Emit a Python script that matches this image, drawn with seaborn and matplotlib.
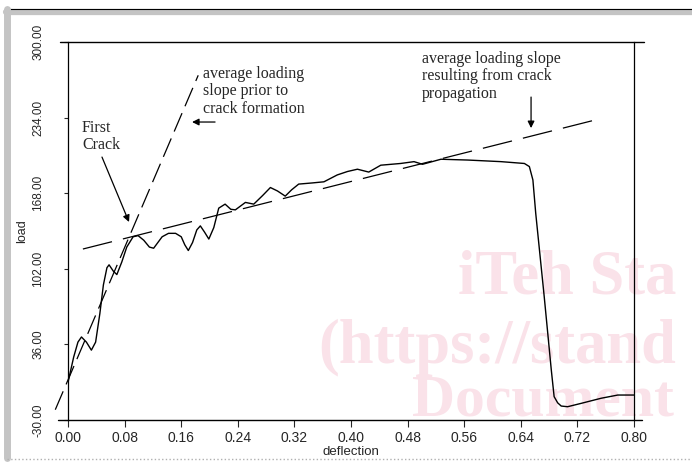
import numpy as np
import pandas as pd
import matplotlib.pyplot as plt
import seaborn as sns
from matplotlib.lines import Line2D

sns.set_style("ticks")
plt.rcParams["font.family"] = ["Liberation Sans", "DejaVu Sans"]

# ── DATA ────────────────────────────────────────────────────
deflection = [0.000, 0.008, 0.014, 0.019, 0.026, 0.033, 0.039, 0.045, 0.050, 0.055,
              0.058, 0.064, 0.069, 0.076, 0.083, 0.092, 0.099, 0.107, 0.115, 0.121,
              0.127, 0.133, 0.142, 0.152, 0.160, 0.165, 0.170, 0.176, 0.182, 0.187,
              0.193, 0.199, 0.206, 0.213, 0.222, 0.230, 0.2365, 0.2507, 0.2625, 0.275,
              0.286, 0.296, 0.307, 0.316, 0.326, 0.345, 0.3617, 0.3805, 0.395, 0.409,
              0.425, 0.442, 0.470, 0.489, 0.501, 0.527, 0.565, 0.612, 0.645, 0.652,
              0.657, 0.661, 0.673, 0.683, 0.687, 0.692, 0.697, 0.706, 0.725, 0.7535,
              0.777, 0.800]
load = [3, 25, 38, 42.5, 38, 31, 38, 63, 88, 103,
        105.5, 100, 97, 108, 121, 130, 131, 127, 121, 120,
        125, 130, 133, 133, 130, 123, 118, 125, 136, 139.5,
        134, 128, 138, 155, 158.5, 154, 153.5, 160, 158.5, 166,
        173, 170, 165.5, 171, 176, 177, 178, 184, 187, 189,
        186.5, 192.5, 194, 195.6, 193.3, 197.7, 197, 195.6, 194, 191.3,
        179.6, 150.5, 77.7, 13.7, -9.6, -15, -17.8, -18.4, -15.5, -11,
        -8.2, -8.2]

# average slope lines (end points)
pre_crack_x = [-0.018, 0.184]
pre_crack_y = [-21, 271]
post_crack_x = [0.021, 0.751]
post_crack_y = [119.3, 232.9]

x_ticks = [0.00, 0.08, 0.16, 0.24, 0.32, 0.40, 0.48, 0.56, 0.64, 0.72, 0.80]
y_ticks = [-30, 36, 102, 168, 234, 300]

# visible part of the page watermark
watermark = ["iTeh Sta", "(https://stand", "Document"]

df = pd.DataFrame({"deflection": deflection, "load": load})

# ── FIGURE ──────────────────────────────────────────────────
fig = plt.figure(figsize=(6.92, 4.62), dpi=100)
ax = fig.add_axes([0.0983, 0.0909, 0.818, 0.818])
ax.set_zorder(1)
ax.patch.set_visible(False)

# watermark behind the chart
wm = dict(family=["Liberation Serif", "DejaVu Serif"], fontweight="bold",
          fontsize=45, color="#fae2e9", zorder=0, va="baseline", ha="left")
fig.text(458 / 692, 1 - 293 / 462, watermark[0], **wm)
fig.text(318 / 692, 1 - 363 / 462, watermark[1], **wm)
fig.text(412 / 692, 1 - 416 / 462, watermark[2], **{**wm, "fontsize": 43})

sns.lineplot(data=df, x="deflection", y="load", ax=ax, color="black",
             lw=1.0, estimator=None, sort=False)
sns.lineplot(x=pre_crack_x, y=pre_crack_y, ax=ax, color="black", lw=0.9)
ax.lines[-1].set_dashes([16, 6])
ax.lines[-1].set_clip_on(False)
sns.lineplot(x=post_crack_x, y=post_crack_y, ax=ax, color="black", lw=0.9)
ax.lines[-1].set_dashes([24, 9])

ax.set_xlim(0, 0.8)
ax.set_ylim(-30, 300)
ax.set_xticks(x_ticks)
ax.set_xticklabels([f"{v:.2f}" for v in x_ticks])
ax.set_yticks(y_ticks)
ax.set_yticklabels([f"{v:.2f}" for v in y_ticks])
ax.tick_params(axis="x", direction="out", length=5, width=0.8, pad=3, labelsize=10)
ax.tick_params(axis="y", direction="out", length=3, width=0.8, pad=14,
               labelsize=8.5, labelrotation=90)
for lab in ax.get_yticklabels():
    lab.set_va("center")

ax.set_xlabel("deflection", fontsize=9.5, labelpad=0)
ax.set_ylabel("load", fontsize=9)
ax.xaxis.set_label_coords(0.5, -0.069)
ax.yaxis.set_label_coords(-0.071, 0.5)

for side in ["left", "right"]:
    ax.spines[side].set_linewidth(0.9)
    ax.spines[side].set_color("black")
ax.spines["top"].set_visible(False)
ax.spines["bottom"].set_visible(False)
# top and bottom frame lines run a little past the box
fig.add_artist(Line2D([60 / 692, 644 / 692], [1 - 42 / 462] * 2, color="black", lw=1.0))
fig.add_artist(Line2D([58 / 692, 642 / 692], [1 - 420 / 462] * 2, color="black", lw=1.0))

# ── ANNOTATIONS ─────────────────────────────────────────────
serif = ["Liberation Serif", "DejaVu Serif"]
ax.text(0.0198, 232, "First\nCrack", family=serif, fontsize=11.5, va="top",
        ha="left", linespacing=1.1)
ax.text(0.1908, 279, "average loading\nslope prior to\ncrack formation", family=serif,
        fontsize=11.5, va="top", ha="left", linespacing=1.1)
ax.text(0.5004, 292, "average loading slope\nresulting from crack\npropagation",
        family=serif, fontsize=11.5, va="top", ha="left", linespacing=1.1)

arrow = dict(arrowstyle="-|>", color="black", lw=0.9, mutation_scale=10,
             shrinkA=0, shrinkB=0)
ax.annotate("", xy=(0.0862, 142.9), xytext=(0.048, 199.6), arrowprops=arrow)
ax.annotate("", xy=(0.1753, 230.2), xytext=(0.2078, 230.2), arrowprops=arrow)
ax.annotate("", xy=(0.6544, 224.9), xytext=(0.6544, 252), arrowprops=arrow)

# stippled page frame
fig.add_artist(Line2D([6 / 692, 1.0], [1 - 12 / 462] * 2, color="#c4c4c4", lw=4.5))
fig.add_artist(Line2D([6 / 692, 1.0], [1 - 9 / 462] * 2, color="black", lw=0.8))
fig.add_artist(Line2D([7 / 692] * 2, [1 - 9 / 462, 1 - 458 / 462], color="#c4c4c4", lw=5))
fig.add_artist(Line2D([7 / 692, 1.0], [1 - 459 / 462] * 2, color="#b0b0b0", lw=1, ls=":"))

fig.savefig("out.png", dpi=100)
